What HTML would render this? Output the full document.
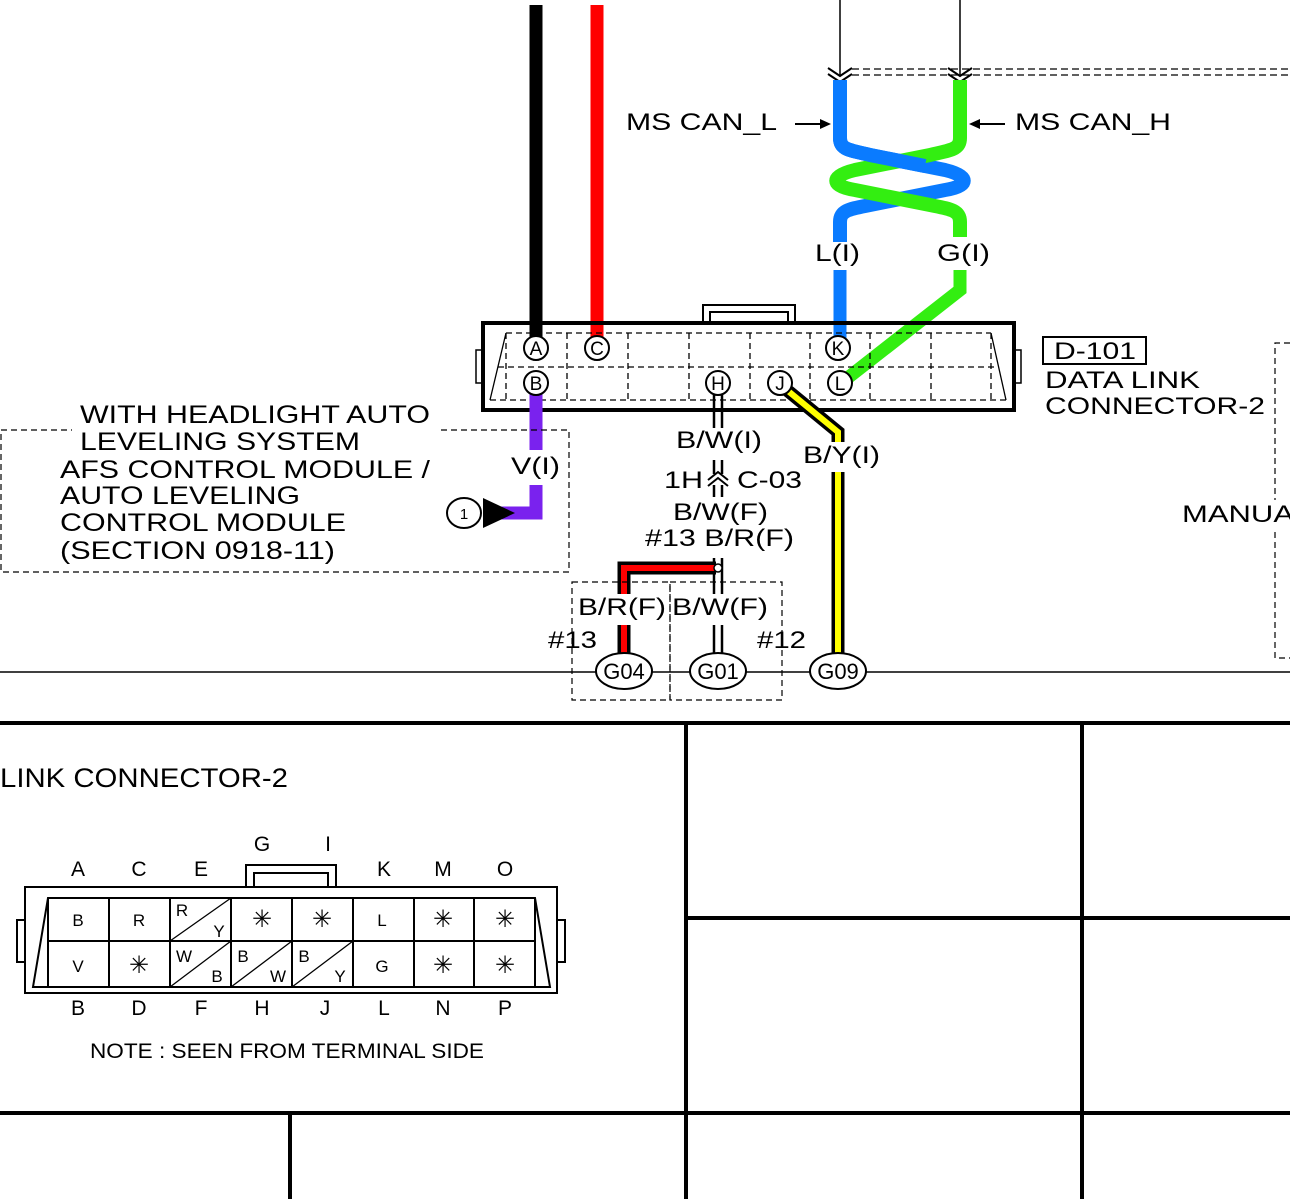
<!DOCTYPE html>
<html><head><meta charset="utf-8"><style>
html,body{margin:0;padding:0;background:#fff;}
svg{display:block;font-family:"Liberation Sans",Arial,sans-serif;}
</style></head><body>
<svg width="1290" height="1199" viewBox="0 0 1290 1199" xmlns="http://www.w3.org/2000/svg">
<rect width="1290" height="1199" fill="#fff"/>
<line x1="536" y1="5" x2="536" y2="338" stroke="#000" stroke-width="13"/>
<line x1="597" y1="5" x2="597" y2="338" stroke="#f00" stroke-width="13"/>
<line x1="840" y1="0" x2="840" y2="76" stroke="#000" stroke-width="1.5"/>
<line x1="960" y1="0" x2="960" y2="76" stroke="#000" stroke-width="1.5"/>
<path d="M828,68 L840,76 L852,68 M828,74 L840,82 L852,74" fill="none" stroke="#000" stroke-width="2"/>
<path d="M948,68 L960,76 L972,68 M948,74 L960,82 L972,74" fill="none" stroke="#000" stroke-width="2"/>
<line x1="852" y1="69" x2="1290" y2="69" stroke="#000" stroke-width="1.3" stroke-dasharray="7,4"/>
<line x1="852" y1="75" x2="1290" y2="75" stroke="#000" stroke-width="1.3" stroke-dasharray="7,4"/>
<!-- twisted pair -->
<path d="M840,80 V138 C840,150 850,150 870,155 L945,170 C970,176 970,186 945,190 L870,205 C850,209 840,210 840,222 V242" fill="none" stroke="#0a7bff" stroke-width="14"/>
<path d="M960,80 V138 C960,150 950,150 930,155 L855,170 C830,176 830,186 855,190 L930,205 C950,209 960,210 960,222 V237" fill="none" stroke="#33ee11" stroke-width="14"/>
<path d="M840,130 V138 C840,150 850,150 870,155 L925,166" fill="none" stroke="#0a7bff" stroke-width="14"/>
<line x1="840" y1="270" x2="840" y2="338" stroke="#0a7bff" stroke-width="13"/>
<path d="M960,270 V290 L845,380" fill="none" stroke="#33ee11" stroke-width="13"/>
<g font-size="24" lengthAdjust="spacingAndGlyphs">
<text x="815" y="261" textLength="45" lengthAdjust="spacingAndGlyphs">L(I)</text>
<text x="937" y="261" textLength="53" lengthAdjust="spacingAndGlyphs">G(I)</text>
<text x="626" y="130" textLength="151" lengthAdjust="spacingAndGlyphs">MS CAN_L</text>
<text x="1015" y="130" textLength="156" lengthAdjust="spacingAndGlyphs">MS CAN_H</text>
</g>
<line x1="795" y1="124" x2="822" y2="124" stroke="#000" stroke-width="2"/>
<path d="M831,124 L820,119 L820,129 Z" fill="#000"/>
<line x1="1005" y1="124" x2="978" y2="124" stroke="#000" stroke-width="2"/>
<path d="M969,124 L980,119 L980,129 Z" fill="#000"/>
<!-- main connector -->
<path d="M703,323 V305 H795 V323 M710,323 V312 H788 V323" fill="none" stroke="#000" stroke-width="2"/>
<rect x="476" y="350" width="7" height="33" fill="none" stroke="#000" stroke-width="1.5"/>
<rect x="1014" y="350" width="7" height="33" fill="none" stroke="#000" stroke-width="1.5"/>
<rect x="483" y="323" width="531" height="87" fill="none" stroke="#000" stroke-width="4"/>
<g stroke="#000" stroke-width="1.3" fill="none">
<path d="M506,333 L490,400 M991,333 L1006,400"/>
<g stroke-dasharray="6,4">
<line x1="506" y1="333" x2="991" y2="333"/>
<line x1="498" y1="367" x2="998" y2="367"/>
<line x1="490" y1="400" x2="1006" y2="400"/>
<line x1="506" y1="333" x2="506" y2="400"/>
<line x1="567" y1="333" x2="567" y2="400"/>
<line x1="628" y1="333" x2="628" y2="400"/>
<line x1="689" y1="333" x2="689" y2="400"/>
<line x1="750" y1="333" x2="750" y2="400"/>
<line x1="810" y1="333" x2="810" y2="400"/>
<line x1="870" y1="333" x2="870" y2="400"/>
<line x1="931" y1="333" x2="931" y2="400"/>
<line x1="991" y1="333" x2="991" y2="400"/>
</g></g>
<!-- purple -->
<line x1="536" y1="392" x2="536" y2="450" stroke="#7a22ee" stroke-width="13"/>
<path d="M536,485 V513 H500" fill="none" stroke="#7a22ee" stroke-width="13"/>
<path d="M483,498 L515,513 L483,528 Z" fill="#000"/>
<ellipse cx="464" cy="513" rx="17" ry="15" fill="#fff" stroke="#000" stroke-width="2"/>
<text x="464" y="519" font-size="15" text-anchor="middle">1</text>
<text x="511" y="474" font-size="24" textLength="49" lengthAdjust="spacingAndGlyphs">V(I)</text>
<!-- yellow -->
<path d="M782,386 L838,432 V442 M838,472 V656" fill="none" stroke="#000" stroke-width="13"/>
<path d="M782,386 L838,432 V442 M838,472 V656" fill="none" stroke="#ff0" stroke-width="6"/>
<text x="803" y="463" font-size="24" textLength="77" lengthAdjust="spacingAndGlyphs">B/Y(I)</text>
<g stroke="#000" stroke-width="2.5">
<line x1="714" y1="395" x2="714" y2="428"/><line x1="722" y1="395" x2="722" y2="428"/>
<line x1="714" y1="460" x2="714" y2="474"/><line x1="722" y1="460" x2="722" y2="474"/>
<line x1="714" y1="485" x2="714" y2="497"/><line x1="722" y1="485" x2="722" y2="497"/>
<line x1="714" y1="558" x2="714" y2="598"/><line x1="722" y1="558" x2="722" y2="598"/>
<line x1="714" y1="625" x2="714" y2="656"/><line x1="722" y1="625" x2="722" y2="656"/>
</g>
<path d="M708,480 L718,472 L728,480 M708,486 L718,478 L728,486" fill="none" stroke="#000" stroke-width="2"/>
<g font-size="24">
<text x="676" y="448" textLength="86" lengthAdjust="spacingAndGlyphs">B/W(I)</text>
<text x="664" y="488" textLength="39" lengthAdjust="spacingAndGlyphs">1H</text>
<text x="737" y="488" textLength="65" lengthAdjust="spacingAndGlyphs">C-03</text>
<text x="673" y="520" textLength="95" lengthAdjust="spacingAndGlyphs">B/W(F)</text>
<text x="645" y="546" textLength="149" lengthAdjust="spacingAndGlyphs">#13 B/R(F)</text>
</g>
<path d="M716,568 H624 V598 M624,625 V656" fill="none" stroke="#000" stroke-width="13"/>
<path d="M716,568 H624 V598 M624,625 V656" fill="none" stroke="#f00" stroke-width="6"/>
<circle cx="718" cy="568" r="4" fill="#fff" stroke="#000" stroke-width="1.5"/>
<rect x="572" y="582" width="98" height="118" fill="none" stroke="#000" stroke-width="1.2" stroke-dasharray="6,4"/>
<rect x="670" y="582" width="112" height="118" fill="none" stroke="#000" stroke-width="1.2" stroke-dasharray="6,4"/>
<line x1="0" y1="672" x2="1290" y2="672" stroke="#000" stroke-width="1.5"/>
<rect x="577" y="594" width="90" height="26" fill="#fff"/>
<rect x="672" y="594" width="96" height="26" fill="#fff"/>
<g font-size="24">
<text x="578" y="615" textLength="88" lengthAdjust="spacingAndGlyphs">B/R(F)</text>
<text x="672" y="615" textLength="96" lengthAdjust="spacingAndGlyphs">B/W(F)</text>
<text x="548" y="648" textLength="49" lengthAdjust="spacingAndGlyphs">#13</text>
<text x="757" y="648" textLength="49" lengthAdjust="spacingAndGlyphs">#12</text>
</g>
<g fill="#fff" stroke="#000" stroke-width="2">
<ellipse cx="624" cy="671" rx="28" ry="18"/><ellipse cx="718" cy="671" rx="28" ry="18"/><ellipse cx="838" cy="671" rx="28" ry="18"/>
</g>
<g font-size="22" text-anchor="middle">
<text x="624" y="679">G04</text><text x="718" y="679">G01</text><text x="838" y="679">G09</text>
</g>
<g fill="#fff" stroke="#000" stroke-width="2">
<circle cx="536" cy="348" r="12"/><circle cx="597" cy="348" r="12"/><circle cx="838" cy="348" r="12"/>
<circle cx="536" cy="383" r="12"/><circle cx="718" cy="383" r="12"/><circle cx="780" cy="383" r="12"/><circle cx="840" cy="383" r="12"/>
</g>
<g font-size="19" text-anchor="middle">
<text x="536" y="355">A</text><text x="597" y="355">C</text><text x="838" y="355">K</text>
<text x="536" y="390">B</text><text x="718" y="390">H</text><text x="780" y="390">J</text><text x="840" y="390">L</text>
</g>
<rect x="1" y="430" width="568" height="142" fill="none" stroke="#000" stroke-width="1.2" stroke-dasharray="6,4"/>
<rect x="72" y="420" width="365" height="20" fill="#fff"/>
<g font-size="25">
<text x="80" y="423" textLength="350" lengthAdjust="spacingAndGlyphs">WITH HEADLIGHT AUTO</text>
<text x="80" y="450" textLength="280" lengthAdjust="spacingAndGlyphs">LEVELING SYSTEM</text>
<text x="60" y="478" textLength="370" lengthAdjust="spacingAndGlyphs">AFS CONTROL MODULE /</text>
<text x="60" y="504" textLength="240" lengthAdjust="spacingAndGlyphs">AUTO LEVELING</text>
<text x="60" y="531" textLength="286" lengthAdjust="spacingAndGlyphs">CONTROL MODULE</text>
<text x="60" y="559" textLength="275" lengthAdjust="spacingAndGlyphs">(SECTION 0918-11)</text>
</g>
<rect x="1043" y="337" width="103" height="27" fill="none" stroke="#000" stroke-width="2"/>
<g font-size="24">
<text x="1054" y="359" textLength="82" lengthAdjust="spacingAndGlyphs">D-101</text>
<text x="1045" y="388" textLength="155" lengthAdjust="spacingAndGlyphs">DATA LINK</text>
<text x="1045" y="414" textLength="220" lengthAdjust="spacingAndGlyphs">CONNECTOR-2</text>
<text x="1182" y="522" textLength="112" lengthAdjust="spacingAndGlyphs">MANUA</text>
</g>
<path d="M1290,343 H1275 V500 M1275,532 V658 H1290" fill="none" stroke="#000" stroke-width="1.2" stroke-dasharray="6,4"/>
<g stroke="#000" stroke-width="4">
<line x1="0" y1="723" x2="1290" y2="723"/>
<line x1="686" y1="723" x2="686" y2="1199"/>
<line x1="1082" y1="723" x2="1082" y2="1199"/>
<line x1="686" y1="918" x2="1290" y2="918"/>
<line x1="0" y1="1113" x2="1290" y2="1113"/>
<line x1="290" y1="1113" x2="290" y2="1199"/>
</g>
<text x="0" y="787" font-size="27" textLength="288" lengthAdjust="spacingAndGlyphs">LINK CONNECTOR-2</text>
<g fill="none" stroke="#000" stroke-width="2">
<path d="M246,887 V865 H336 V887 M254,887 V873 H328 V887"/>
<rect x="25" y="887" width="532" height="106"/>
<rect x="17" y="920" width="8" height="42"/>
<rect x="557" y="920" width="8" height="42"/>
<path d="M48,898 H535 L550,987 H33 Z"/>
<line x1="48" y1="898" x2="48" y2="987"/>
<line x1="535" y1="898" x2="535" y2="987"/>
<line x1="48" y1="941" x2="535" y2="941"/>
<line x1="109" y1="898" x2="109" y2="987"/><line x1="170" y1="898" x2="170" y2="987"/>
<line x1="231" y1="898" x2="231" y2="987"/><line x1="292" y1="898" x2="292" y2="987"/>
<line x1="353" y1="898" x2="353" y2="987"/><line x1="414" y1="898" x2="414" y2="987"/>
<line x1="474" y1="898" x2="474" y2="987"/>
</g>
<g stroke="#000" stroke-width="1.3">
<line x1="170" y1="941" x2="231" y2="898"/>
<line x1="170" y1="987" x2="231" y2="941"/>
<line x1="231" y1="987" x2="292" y2="941"/>
<line x1="292" y1="987" x2="353" y2="941"/>
</g>
<g font-size="21" text-anchor="middle">
<text x="78" y="876">A</text><text x="139" y="876">C</text><text x="201" y="876">E</text>
<text x="262" y="851">G</text><text x="328" y="851">I</text>
<text x="384" y="876">K</text><text x="443" y="876">M</text><text x="505" y="876">O</text>
<text x="78" y="1015">B</text><text x="139" y="1015">D</text><text x="201" y="1015">F</text>
<text x="262" y="1015">H</text><text x="325" y="1015">J</text><text x="384" y="1015">L</text>
<text x="443" y="1015">N</text><text x="505" y="1015">P</text>
</g>
<g font-size="17" text-anchor="middle">
<text x="78" y="926">B</text><text x="139" y="926">R</text><text x="382" y="926">L</text>
<text x="78" y="972">V</text><text x="382" y="972">G</text>
<text x="182" y="916">R</text><text x="219" y="937">Y</text>
<text x="184" y="962">W</text><text x="217" y="982">B</text>
<text x="243" y="962">B</text><text x="278" y="982">W</text>
<text x="304" y="962">B</text><text x="340" y="982">Y</text>
</g>
<g font-size="24" text-anchor="middle">
<text x="262" y="927">✳</text><text x="322" y="927">✳</text><text x="443" y="927">✳</text><text x="505" y="927">✳</text>
<text x="139" y="973">✳</text><text x="443" y="973">✳</text><text x="505" y="973">✳</text>
</g>
<text x="90" y="1058" font-size="21" textLength="394" lengthAdjust="spacingAndGlyphs">NOTE : SEEN FROM TERMINAL SIDE</text>
</svg>
</body></html>
